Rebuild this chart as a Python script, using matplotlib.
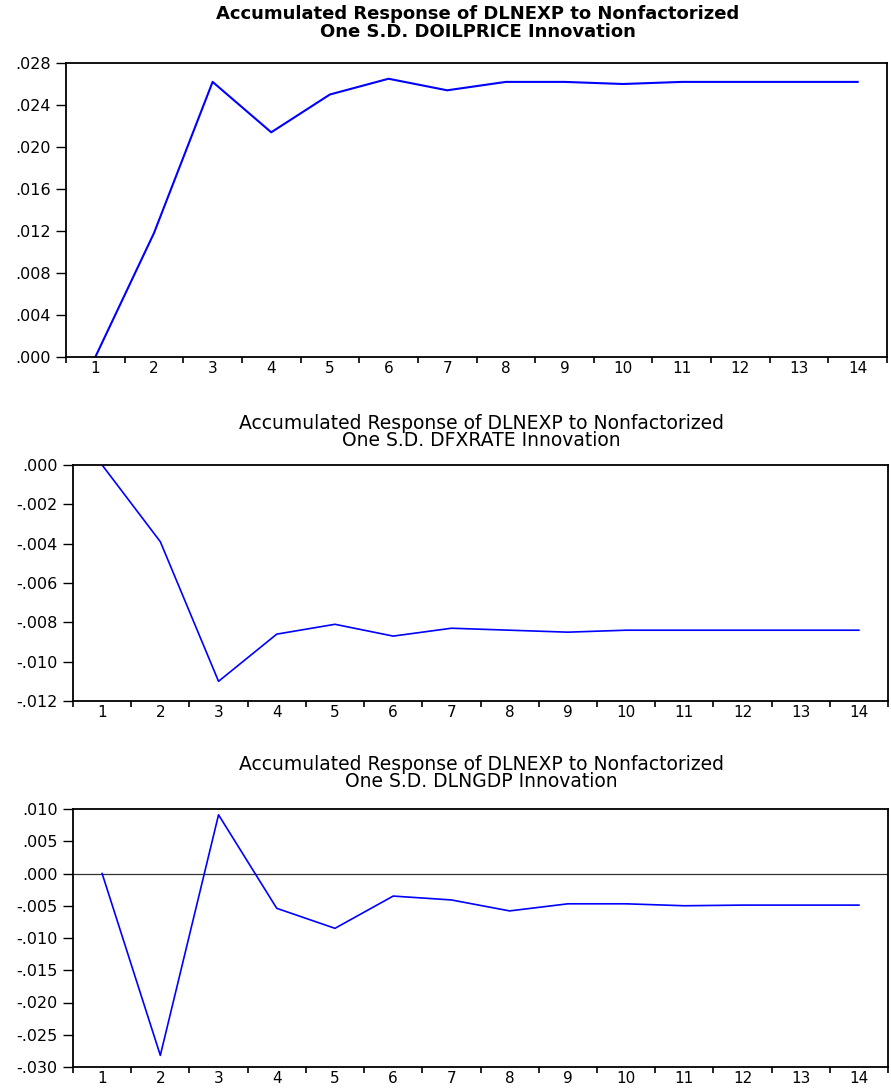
import matplotlib
matplotlib.use('Agg')
import matplotlib.pyplot as plt
from matplotlib.ticker import FuncFormatter, FixedLocator

plt.rcParams['font.family'] = ['DejaVu Sans']

periods = list(range(1, 15))

# accumulated responses of DLNEXP to each shock
resp_oilprice = [0.0000, 0.0118, 0.0262, 0.0214, 0.0250, 0.0265, 0.0254,
                 0.0262, 0.0262, 0.0260, 0.0262, 0.0262, 0.0262, 0.0262]
resp_fxrate = [0.0000, -0.0039, -0.0110, -0.0086, -0.0081, -0.0087, -0.0083,
               -0.0084, -0.0085, -0.0084, -0.0084, -0.0084, -0.0084, -0.0084]
resp_gdp = [0.0000, -0.0282, 0.0091, -0.0054, -0.0085, -0.0035, -0.0041,
            -0.0058, -0.0047, -0.0047, -0.0050, -0.0049, -0.0049, -0.0049]

titles = [
    'Accumulated Response of DLNEXP to Nonfactorized\nOne S.D. DOILPRICE Innovation',
    'Accumulated Response of DLNEXP to Nonfactorized\nOne S.D. DFXRATE Innovation',
    'Accumulated Response of DLNEXP to Nonfactorized\nOne S.D. DLNGDP Innovation',
]
yticks_oil = [0.000, 0.004, 0.008, 0.012, 0.016, 0.020, 0.024, 0.028]
yticks_fx = [0.000, -0.002, -0.004, -0.006, -0.008, -0.010, -0.012]
yticks_gdp = [0.010, 0.005, 0.000, -0.005, -0.010, -0.015, -0.020, -0.025, -0.030]

W, H = 891, 1090
fig = plt.figure(figsize=(W / 100, H / 100), dpi=100)


def px_axes(left, top, right, bottom):
    return fig.add_axes([left / W, 1 - bottom / H, (right - left) / W, (bottom - top) / H])


def eviews_fmt(v, pos=None):
    s = f'{v:.3f}'
    if s.startswith('-0'):
        return '-' + s[2:]
    if s.startswith('0'):
        return s[1:]
    return s


panels = [
    (px_axes(66, 63, 887, 357), resp_oilprice, yticks_oil, (0.0, 0.028), 1.5),
    (px_axes(73, 465, 888, 701), resp_fxrate, yticks_fx, (-0.012, 0.0), 1.2),
    (px_axes(73, 809, 888, 1067), resp_gdp, yticks_gdp, (-0.030, 0.010), 1.2),
]

for ax, vals, yt, ylim, lw in panels:
    ax.plot(periods, vals, color='#0000ff', lw=lw)
    ax.set_xlim(0.5, 14.5)
    ax.set_ylim(*ylim)
    ax.yaxis.set_major_locator(FixedLocator(yt))
    ax.yaxis.set_major_formatter(FuncFormatter(eviews_fmt))
    ax.set_xticks(periods)
    ax.set_xticks([p + 0.5 for p in range(0, 15)], minor=True)
    ax.tick_params(axis='x', which='major', length=0, pad=3, labelsize=11)
    ax.tick_params(axis='x', which='minor', length=4, width=1.2, direction='out')
    ax.tick_params(axis='y', length=7, width=1.0, direction='out', pad=4, labelsize=11.5)
    for sp in ax.spines.values():
        sp.set_linewidth(1.3)
        sp.set_color('black')

panels[2][0].axhline(0, color='#333333', lw=0.9, zorder=1)

fig.text(0.536, 1 - 23 / H, titles[0], ha='center', va='center',
         fontsize=13, fontweight='bold', linespacing=0.95)
fig.text(0.540, 1 - 432 / H, titles[1], ha='center', va='center',
         fontsize=13.5, linespacing=0.82)
fig.text(0.540, 1 - 773 / H, titles[2], ha='center', va='center',
         fontsize=13.5, linespacing=0.82)

fig.savefig('out.png', dpi=100)
